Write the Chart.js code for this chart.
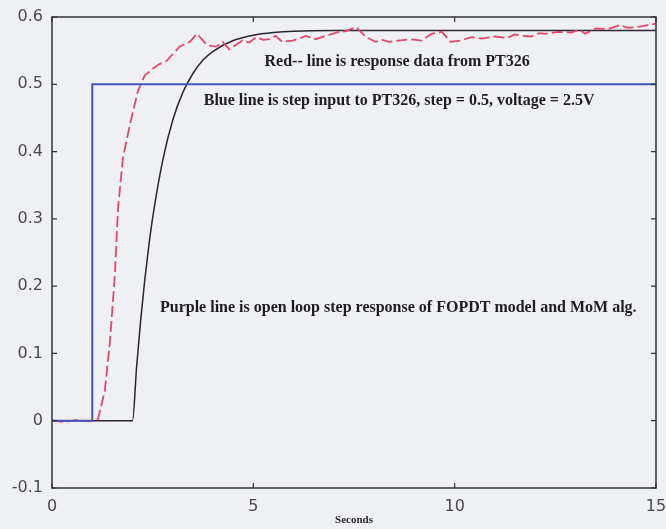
<!DOCTYPE html>
<html>
<head>
<meta charset="utf-8">
<script src="https://cdn.jsdelivr.net/npm/chart.js@4.4.1/dist/chart.umd.min.js"></script>
<style>
  html, body { margin: 0; padding: 0; background: #eff0f4; }
  #wrap { width: 666px; height: 529px; }
</style>
</head>
<body>
<div id="wrap"><canvas id="c" width="666" height="529"></canvas></div>
<script>
// ---- data ----
const xTickValues = [0, 5, 10, 15];
const yTickValues = [-0.1, 0, 0.1, 0.2, 0.3, 0.4, 0.5, 0.6];
const xTitle = 'Seconds';

// Blue: step input
const stepTime  = [0, 1, 1, 15];
const stepValue = [0, 0, 0.5, 0.5];

// Red dashed: measured response from PT326
const redTime  = [0, 0.3, 0.6, 0.9, 1.14, 1.31, 1.44, 1.56, 1.64, 1.76, 1.93, 2.13, 2.3, 2.5, 2.67, 2.85, 3.0, 3.17, 3.3, 3.42, 3.6, 3.75, 3.86, 4.08, 4.24, 4.4, 4.55, 4.73, 4.9, 5.07, 5.25, 5.4, 5.55, 5.72, 5.97, 6.15, 6.3, 6.55, 6.8, 7.08, 7.3, 7.55, 7.8, 8.04, 8.2, 8.37, 8.6, 8.9, 9.18, 9.43, 9.68, 9.9, 10.15, 10.42, 10.67, 11.0, 11.3, 11.5, 11.67, 11.9, 12.1, 12.25, 12.57, 12.9, 13.1, 13.24, 13.5, 13.8, 14.1, 14.3, 14.5, 14.8, 15];
const redValue = [0, -0.002, 0.001, -0.001, 0.002, 0.044, 0.118, 0.216, 0.316, 0.39, 0.439, 0.489, 0.513, 0.523, 0.53, 0.535, 0.545, 0.556, 0.56, 0.563, 0.575, 0.565, 0.558, 0.556, 0.563, 0.552, 0.558, 0.565, 0.562, 0.57, 0.566, 0.567, 0.572, 0.563, 0.565, 0.568, 0.572, 0.567, 0.572, 0.577, 0.579, 0.585, 0.57, 0.563, 0.566, 0.563, 0.565, 0.567, 0.565, 0.575, 0.578, 0.563, 0.565, 0.57, 0.568, 0.571, 0.569, 0.574, 0.572, 0.571, 0.576, 0.575, 0.578, 0.577, 0.581, 0.575, 0.583, 0.582, 0.588, 0.584, 0.585, 0.588, 0.59];

// Purple/black: FOPDT model step response
const modelTime  = [0, 2.0, 2.1, 2.2, 2.3, 2.4, 2.5, 2.75, 3.0, 3.25, 3.5, 3.75, 4.0, 4.5, 5.0, 5.5, 6.0, 7.0, 8.0, 15];
const modelValue = [0, 0, 0.079, 0.148, 0.207, 0.258, 0.302, 0.387, 0.447, 0.488, 0.516, 0.536, 0.549, 0.565, 0.573, 0.577, 0.579, 0.58, 0.58, 0.58];

// annotation texts
const noteTexts = [
  'Red-- line is response data from PT326',
  'Blue line is step input to PT326, step = 0.5, voltage = 2.5V',
  'Purple line is open loop step response of FOPDT model and MoM alg.'
];
const noteX = [8.57, 8.62, 8.6];
const noteY = [0.533, 0.476, 0.167];

// ---- chart ----
const pts = (xs, ys) => xs.map((x, i) => ({ x: x, y: ys[i] }));

const bgPlugin = {
  id: 'bg',
  beforeDraw(chart) {
    const ctx = chart.ctx;
    ctx.save();
    ctx.fillStyle = '#eff0f4';
    ctx.fillRect(0, 0, chart.width, chart.height);
    ctx.restore();
  }
};

const framePlugin = {
  id: 'frame',
  afterDatasetsDraw(chart) {
    const ctx = chart.ctx, a = chart.chartArea;
    const xs = chart.scales.x, ys = chart.scales.y;
    ctx.save();
    ctx.strokeStyle = '#333';
    ctx.lineWidth = 1.5;
    ctx.strokeRect(a.left, a.top, a.right - a.left, a.bottom - a.top);
    ctx.lineWidth = 1.2;
    const L = 5;
    ctx.beginPath();
    xTickValues.forEach(v => {
      const px = xs.getPixelForValue(v);
      ctx.moveTo(px, a.bottom); ctx.lineTo(px, a.bottom - L);
      ctx.moveTo(px, a.top); ctx.lineTo(px, a.top + L);
    });
    yTickValues.forEach(v => {
      const py = ys.getPixelForValue(v);
      ctx.moveTo(a.left, py); ctx.lineTo(a.left + L, py);
      ctx.moveTo(a.right, py); ctx.lineTo(a.right - L, py);
    });
    ctx.stroke();
    // notes
    ctx.fillStyle = '#1e1e22';
    ctx.font = 'bold 16px "Liberation Serif", "DejaVu Serif", serif';
    ctx.textAlign = 'center';
    ctx.textBaseline = 'middle';
    noteTexts.forEach((t, i) => {
      ctx.fillText(t, xs.getPixelForValue(noteX[i]), ys.getPixelForValue(noteY[i]));
    });
    ctx.restore();
  }
};

new Chart(document.getElementById('c'), {
  type: 'scatter',
  data: {
    datasets: [
      {
        label: 'Step input',
        data: pts(stepTime, stepValue),
        showLine: true,
        borderColor: '#4457b8',
        borderWidth: 2,
        pointRadius: 0,
        tension: 0
      },
      {
        label: 'Response data',
        data: pts(redTime, redValue),
        showLine: true,
        borderColor: '#e4476c',
        borderWidth: 1.8,
        borderDash: [11, 4],
        pointRadius: 0,
        tension: 0
      },
      {
        label: 'FOPDT model',
        data: pts(modelTime, modelValue),
        showLine: true,
        borderColor: '#2a2630',
        borderWidth: 1.5,
        pointRadius: 0,
        cubicInterpolationMode: 'monotone'
      }
    ]
  },
  options: {
    responsive: false,
    animation: false,
    devicePixelRatio: 1,
    layout: { padding: { top: 17, right: 10, left: 0, bottom: 0 } },
    plugins: { legend: { display: false }, tooltip: { enabled: false } },
    scales: {
      x: {
        type: 'linear', min: 0, max: 15,
        afterBuildTicks: s => { s.ticks = xTickValues.map(v => ({ value: v })); },
        grid: { display: false, drawTicks: false },
        border: { display: false },
        ticks: { color: '#4a4a4a', font: { family: 'DejaVu Sans', size: 16 }, padding: 9, maxRotation: 0 },
        title: { display: true, text: xTitle, color: '#2a2a2a', font: { family: 'Liberation Serif', weight: 'bold', size: 11 }, padding: { top: 0, bottom: 2 } },
        afterFit: s => { s.height = 41; s.paddingLeft = 0; s.paddingRight = 0; }
      },
      y: {
        type: 'linear', min: -0.1, max: 0.6,
        afterBuildTicks: s => { s.ticks = yTickValues.map(v => ({ value: v })); },
        grid: { display: false, drawTicks: false },
        border: { display: false },
        ticks: { color: '#4a4a4a', font: { family: 'DejaVu Sans', size: 16 }, padding: 9,
                 callback: v => String(Math.round(v * 10) / 10) },
        afterFit: s => { s.width = 52; s.paddingTop = 0; s.paddingBottom = 0; }
      }
    }
  },
  plugins: [bgPlugin, framePlugin]
});
</script>
</body>
</html>
